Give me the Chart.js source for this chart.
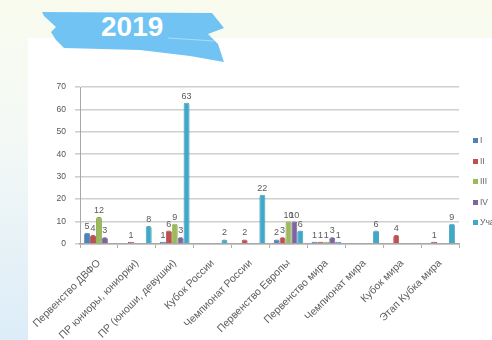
<!DOCTYPE html>
<html>
<head>
<meta charset="utf-8">
<script src="https://cdn.jsdelivr.net/npm/chart.js@4/dist/chart.umd.min.js"></script>
<style>
  html, body { margin: 0; padding: 0; width: 492px; height: 340px; overflow: hidden; }
  body {
    position: relative;
    background: linear-gradient(180deg, #f9fbee 0%, #f4f9f6 40%, #dcecf8 100%);
    font-family: "Liberation Sans", Arial, sans-serif;
  }
  #panel { position: absolute; left: 28px; top: 38px; width: 464px; height: 302px; background: #ffffff; }
  #ribbon { position: absolute; left: 0; top: 0; }
  #year {
    position: absolute; left: 101px; top: 11px;
    font: bold 28px "Liberation Sans", Arial, sans-serif; color: #ffffff;
  }
  #chart { position: absolute; left: 0; top: 0; }
  #legend { position: absolute; left: 473px; top: 136px; white-space: nowrap; }
  .item { position: absolute; left: 0; height: 10px; font: 8.5px "Liberation Sans", Arial, sans-serif; color: #666; }
  .item span.sw { position: absolute; left: 0; top: 2px; width: 5px; height: 5px; }
  .item span.tx { position: absolute; left: 7px; top: 0; line-height: 9px; }
</style>
</head>
<body>
<div id="panel"></div>
<svg id="ribbon" width="260" height="80">
  <polygon fill="#71c3f3"
    points="42,12 212,13 224,28 208,34 218,44 224,62 190,56 140,50 64,48 56,40 51,32 56,27 44,16"/>
  <path d="M168,38 L214,41" stroke="#a9dcf8" stroke-width="1" fill="none"/>
</svg>
<div id="year">2019</div>
<canvas id="chart" width="492" height="340"></canvas>
<div id="legend"></div>
<script>
// Competitions (x axis)
const categories = [
  'Первенство ДВФО',
  'ПР юниоры, юниорки)',
  'ПР (юноши, девушки)',
  'Кубок России',
  'Чемпионат России',
  'Первенство Европы',
  'Первенство мира',
  'Чемпионат мира',
  'Кубок мира',
  'Этап Кубка мира'
];

// Series names
const seriesNames = ['I', 'II', 'III', 'IV', 'Участники'];

// Counts per place / participation
const placeI      = [5, 0, 1, 0, 0, 2, 1, 0, 0, 0];
const placeII     = [4, 1, 6, 0, 2, 3, 1, 0, 4, 1];
const placeIII    = [12, 0, 9, 0, 0, 10, 1, 0, 0, 0];
const placeIV     = [3, 0, 3, 0, 0, 10, 3, 0, 0, 0];
const participants = [0, 8, 63, 2, 22, 6, 1, 6, 0, 9];

// Value axis ticks
const yTicks = [0, 10, 20, 30, 40, 50, 60, 70];

const colors = ['#4f81bd', '#c0504d', '#9bbb59', '#8064a2', '#3fa9c9'];
const borders = ['#3a6599', '#9a3a37', '#7c9a44', '#644d84', '#2d88a3'];
const seriesValues = [placeI, placeII, placeIII, placeIV, participants];

// Value labels above every non-zero bar
const valueLabels = {
  id: 'valueLabels',
  afterDatasetsDraw(chart) {
    const ctx = chart.ctx;
    ctx.save();
    ctx.font = '9px "Liberation Sans", Arial, sans-serif';
    ctx.fillStyle = '#5a5a5a';
    ctx.textAlign = 'center';
    ctx.textBaseline = 'bottom';
    chart.data.datasets.forEach((ds, i) => {
      const meta = chart.getDatasetMeta(i);
      meta.data.forEach((bar, j) => {
        const v = ds.data[j];
        if (v > 0) ctx.fillText(String(v), bar.x, bar.y - 2);
      });
    });
    ctx.restore();
  }
};

new Chart(document.getElementById('chart'), {
  type: 'bar',
  data: {
    labels: categories,
    datasets: seriesNames.map((name, i) => ({
      label: name,
      data: seriesValues[i],
      backgroundColor: colors[i],
      borderColor: borders[i],
      borderWidth: 0.8,
      borderRadius: { topLeft: 2, topRight: 2 },
      borderSkipped: 'bottom',
      categoryPercentage: 0.78,
      barPercentage: 1
    }))
  },
  options: {
    responsive: false,
    animation: false,
    layout: { padding: { left: 0, right: 33, top: 87, bottom: 0 } },
    plugins: { legend: { display: false }, tooltip: { enabled: false } },
    scales: {
      x: {
        afterFit(scale) { scale.height = 96; },
        grid: { display: true, drawOnChartArea: false, tickLength: 4, color: '#b0b0b0', offset: true },
        border: { display: true, color: '#a8a8a8', width: 1.5 },
        ticks: {
          autoSkip: false, minRotation: 45, maxRotation: 45, padding: 9,
          font: { family: '"Liberation Sans", Arial, sans-serif', size: 10.5 }, color: '#606060'
        }
      },
      y: {
        min: 0, max: 70,
        afterFit(scale) { scale.width = 80; },
        afterBuildTicks(scale) { scale.ticks = yTicks.map(v => ({ value: v })); },
        grid: { color: '#cfcfcf', lineWidth: 1.6, tickLength: 5, drawTicks: true },
        border: { display: true, color: '#a8a8a8', width: 1 },
        ticks: {
          padding: 9,
          font: { family: '"Liberation Sans", Arial, sans-serif', size: 8.5 }, color: '#555'
        }
      }
    }
  },
  plugins: [valueLabels]
});

// Legend column on the right edge
const legend = document.getElementById('legend');
seriesNames.forEach((name, i) => {
  const item = document.createElement('div');
  item.className = 'item';
  item.style.top = (i * 20.5) + 'px';
  item.innerHTML = '<span class="sw" style="background:' + colors[i] + '"></span><span class="tx">' + name + '</span>';
  legend.appendChild(item);
});
</script>
</body>
</html>
